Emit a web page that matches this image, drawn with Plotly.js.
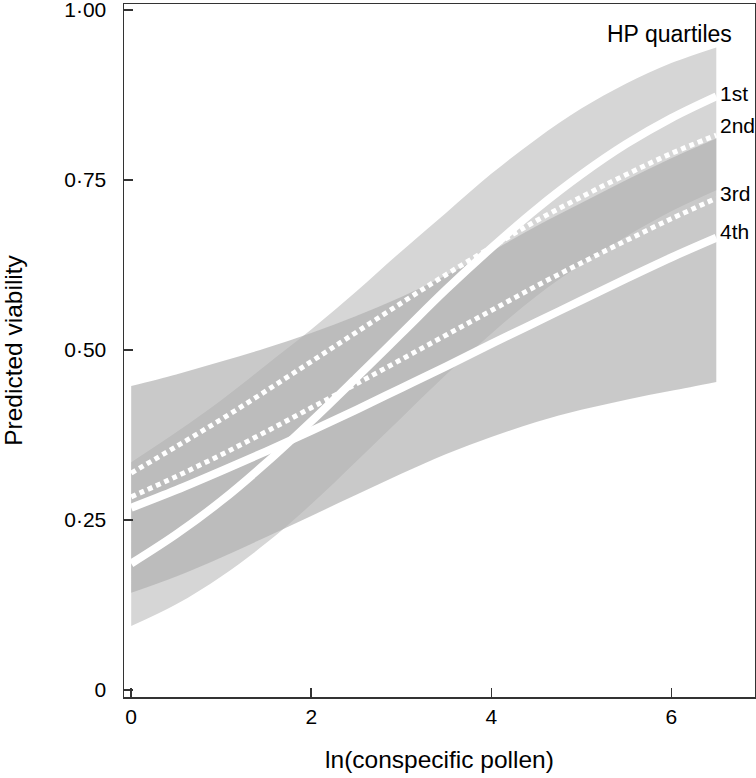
<!DOCTYPE html>
<html>
<head>
<meta charset="utf-8">
<script src="https://cdn.plot.ly/plotly-3.0.1.min.js"></script>
<style>html,body{margin:0;padding:0;background:#fff;}#chart{width:756px;height:778px;}</style>
</head>
<body>
<div id="chart"></div>
<script>
// ln(conspecific pollen)
const xVals = [0, 0.5, 1, 1.5, 2, 2.5, 3, 3.5, 4, 4.5, 5, 5.5, 6, 6.5];

// Predicted viability per HP quartile
const q1 = [0.186, 0.229, 0.278, 0.334, 0.395, 0.459, 0.524, 0.589, 0.650, 0.707, 0.758, 0.803, 0.841, 0.873];
const q2 = [0.319, 0.358, 0.398, 0.440, 0.483, 0.526, 0.569, 0.611, 0.651, 0.690, 0.725, 0.758, 0.789, 0.816];
const q3 = [0.284, 0.314, 0.346, 0.380, 0.415, 0.450, 0.486, 0.522, 0.558, 0.594, 0.628, 0.661, 0.693, 0.723];
const q4 = [0.268, 0.294, 0.322, 0.351, 0.381, 0.412, 0.444, 0.476, 0.509, 0.541, 0.573, 0.605, 0.636, 0.665];

// Confidence bands: 1st and 4th quartiles
const q1Upper = [0.335, 0.379, 0.426, 0.478, 0.530, 0.586, 0.645, 0.702, 0.759, 0.810, 0.855, 0.892, 0.922, 0.945];
const q1Lower = [0.094, 0.126, 0.167, 0.216, 0.273, 0.336, 0.400, 0.464, 0.524, 0.579, 0.626, 0.667, 0.704, 0.735];
const q4Upper = [0.447, 0.464, 0.483, 0.503, 0.525, 0.550, 0.578, 0.610, 0.645, 0.682, 0.716, 0.750, 0.782, 0.811];
const q4Lower = [0.143, 0.167, 0.195, 0.225, 0.256, 0.287, 0.318, 0.347, 0.372, 0.394, 0.412, 0.427, 0.440, 0.453];

const quartileLabels = ['1st', '2nd', '3rd', '4th'];
const yTickVals = [0, 0.25, 0.5, 0.75, 1];
const yTickText = ['0', '0·25', '0·50', '0·75', '1·00'];
const xTickVals = [0, 2, 4, 6];
const xTickText = ['0', '2', '4', '6'];

const FONT = '"Liberation Sans", Arial, Helvetica, sans-serif';

const traces = [
  {x: xVals, y: q1Lower, type: 'scatter', mode: 'lines', line: {width: 0, shape: 'spline'}, hoverinfo: 'skip', showlegend: false},
  {x: xVals, y: q1Upper, type: 'scatter', mode: 'lines', line: {width: 0, shape: 'spline'}, fill: 'tonexty', fillcolor: 'rgb(214,214,214)', hoverinfo: 'skip', showlegend: false},
  {x: xVals, y: q4Lower, type: 'scatter', mode: 'lines', line: {width: 0, shape: 'spline'}, hoverinfo: 'skip', showlegend: false},
  {x: xVals, y: q4Upper, type: 'scatter', mode: 'lines', line: {width: 0, shape: 'spline'}, fill: 'tonexty', fillcolor: 'rgba(176,176,176,0.68)', hoverinfo: 'skip', showlegend: false},
  {x: xVals, y: q4, type: 'scatter', mode: 'lines', name: quartileLabels[3], line: {color: '#ffffff', width: 8, shape: 'spline'}, showlegend: false},
  {x: xVals, y: q3, type: 'scatter', mode: 'lines', name: quartileLabels[2], line: {color: '#ffffff', width: 5, dash: '5px,4px', shape: 'spline'}, showlegend: false},
  {x: xVals, y: q2, type: 'scatter', mode: 'lines', name: quartileLabels[1], line: {color: '#ffffff', width: 5, dash: '5px,4px', shape: 'spline'}, showlegend: false},
  {x: xVals, y: q1, type: 'scatter', mode: 'lines', name: quartileLabels[0], line: {color: '#ffffff', width: 8, shape: 'spline'}, showlegend: false}
];

const TICK_SIZE = 21;
const QLABEL_SIZE = 21;
const HEAD_SIZE = 23;
const TITLE_SIZE = 24.5;

const labelY = [0.871, 0.825, 0.7266, 0.6724];
const annotations = quartileLabels.map((t, i) => ({
  text: t, xref: 'paper', yref: 'paper', x: 0.942, y: labelY[i],
  xanchor: 'left', yanchor: 'middle', showarrow: false,
  font: {family: FONT, size: QLABEL_SIZE, color: '#000'}
}));
annotations.push({
  text: 'HP quartiles', xref: 'paper', yref: 'paper', x: 0.865, y: 0.957,
  xanchor: 'center', yanchor: 'middle', showarrow: false,
  font: {family: FONT, size: HEAD_SIZE, color: '#000'}
});

const layout = {
  width: 756, height: 778,
  margin: {l: 123.5, r: 1.3, t: 4, b: 81, pad: 0},
  paper_bgcolor: '#fff', plot_bgcolor: '#fff',
  font: {family: FONT, size: TICK_SIZE, color: '#000'},
  showlegend: false,
  xaxis: {
    range: [-0.08, 6.93], autorange: false,
    tickvals: xTickVals, ticktext: xTickText,
    ticks: 'inside', ticklen: 9, tickwidth: 1.5, tickcolor: '#333',
    showline: true, linecolor: '#333', linewidth: 1.5, mirror: true,
    showgrid: false, zeroline: false,
    ticklabelstandoff: 0, ticklabeloverflow: 'allow',
    tickfont: {family: FONT, size: TICK_SIZE, color: '#000'},
    title: {text: 'ln(conspecific pollen)', font: {family: FONT, size: TITLE_SIZE, color: '#000'}, standoff: 24}
  },
  yaxis: {
    range: [-0.0103, 1.0088], autorange: false,
    tickvals: yTickVals, ticktext: yTickText,
    ticks: 'inside', ticklen: 9, tickwidth: 1.5, tickcolor: '#333',
    showline: true, linecolor: '#333', linewidth: 1.5, mirror: true,
    showgrid: false, zeroline: false,
    ticklabelstandoff: 12, ticklabeloverflow: 'allow',
    tickfont: {family: FONT, size: TICK_SIZE, color: '#000'},
    title: {text: 'Predicted viability', font: {family: FONT, size: TITLE_SIZE, color: '#000'}, standoff: 45}
  },
  annotations: annotations
};

Plotly.newPlot('chart', traces, layout, {displayModeBar: false, staticPlot: true});
</script>
</body>
</html>
